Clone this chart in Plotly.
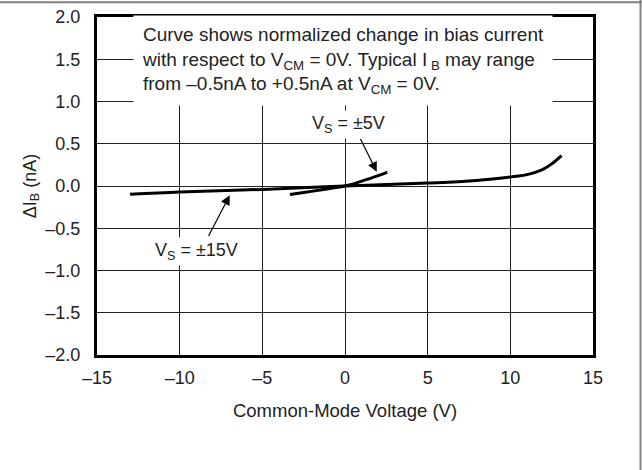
import plotly.graph_objects as go

# Vs = +-15V curve
v15 = [-13.0, -10.0, -5.0, 0.0, 5.0, 7.5, 9.5, 10.5, 11.0, 11.5, 12.0, 12.5, 13.1]
i15 = [-0.098, -0.07, -0.04, 0.0, 0.035, 0.06, 0.095, 0.118, 0.135, 0.162, 0.2, 0.262, 0.36]

# Vs = +-5V curve
v5 = [-3.33, -2.5, -1.5, -0.75, 0.0, 0.75, 1.5, 2.0, 2.56]
i5 = [-0.10, -0.077, -0.048, -0.025, 0.0, 0.04, 0.088, 0.122, 0.165]

x_ticks = [-15, -10, -5, 0, 5, 10, 15]
x_labels = ['–15', '–10', '–5', '0', '5', '10', '15']
y_ticks = [-2.0, -1.5, -1.0, -0.5, 0.0, 0.5, 1.0, 1.5, 2.0]
y_labels = ['–2.0', '–1.5', '–1.0', '–0.5', '0.0', '0.5', '1.0', '1.5', '2.0']

note = ('Curve shows normalized change in bias current<br>'
        'with respect to V<sub>CM</sub> = 0V. Typical I<sub> B</sub> may range<br>'
        'from –0.5nA to +0.5nA at V<sub>CM</sub> = 0V.')

font = 'Arial, Liberation Sans, sans-serif'

line15 = go.Scatter(x=v15, y=i15, mode='lines', line=dict(color='black', width=3, shape='spline'),
                    showlegend=False, hoverinfo='skip')
line5 = go.Scatter(x=v5, y=i5, mode='lines', line=dict(color='black', width=3, shape='spline'),
                   showlegend=False, hoverinfo='skip')
fig = go.Figure([line15, line5])

axis_style = dict(
    showline=True, linecolor='black', linewidth=3, mirror=True,
    showgrid=True, gridcolor='#222222', gridwidth=1, zeroline=False,
    ticks='', automargin=False, tickfont=dict(family=font, size=18, color='#222222'),
)

fig.update_xaxes(range=[-15, 15], tickvals=x_ticks, ticktext=x_labels,
                 ticklabelstandoff=4,
                 title=dict(text='Common-Mode Voltage (V)', standoff=18,
                            font=dict(family=font, size=18.5, color='#222222')),
                 **axis_style)
fig.update_yaxes(range=[-2, 2], tickvals=y_ticks, ticktext=y_labels,
                 ticklabelstandoff=10,
                 title=dict(text='ΔI<sub>B</sub> (nA)', standoff=5,
                            font=dict(family=font, size=18, color='#222222')),
                 **axis_style)

fig.add_annotation(x=-12.84, y=1.48, xref='x', yref='y', text=note, showarrow=False,
                   xanchor='left', yanchor='middle', align='left', bgcolor='white', borderpad=8,
                   font=dict(family=font, size=19, color='#222222'))
fig.add_annotation(x=0.2, y=0.73, text='V<sub>S</sub> = ±5V', showarrow=False,
                   bgcolor='white', borderpad=2, font=dict(family=font, size=18, color='#222222'))
fig.add_annotation(x=-8.97, y=-0.77, text='V<sub>S</sub> = ±15V', showarrow=False,
                   bgcolor='white', borderpad=2, font=dict(family=font, size=18, color='#222222'))
fig.add_annotation(x=1.92, y=0.17, ax=0.89, ay=0.575, axref='x', ayref='y', text='',
                   showarrow=True, arrowhead=2, arrowsize=1.6, arrowwidth=1.2, arrowcolor='black')
fig.add_annotation(x=-6.97, y=-0.11, ax=-8.3, ay=-0.61, axref='x', ayref='y', text='',
                   showarrow=True, arrowhead=2, arrowsize=1.6, arrowwidth=1.2, arrowcolor='black')

# thin gray frame along the top and right edge of the picture
fig.add_shape(type='line', xref='paper', yref='paper', x0=-0.2, x1=1.1, y0=1.044, y1=1.044,
              line=dict(color='#808080', width=2))
fig.add_shape(type='line', xref='paper', yref='paper', x0=1.0958, x1=1.0958, y0=-0.4, y1=1.05,
              line=dict(color='#808080', width=2))

fig.update_layout(
    width=642, height=470,
    margin=dict(l=97, r=49, t=17, b=115),
    plot_bgcolor='white', paper_bgcolor='white',
    font=dict(family=font, size=18, color='#222222'),
)

fig.write_html('out.html', config={'displayModeBar': False},
               post_script="document.body.style.margin='0';")
